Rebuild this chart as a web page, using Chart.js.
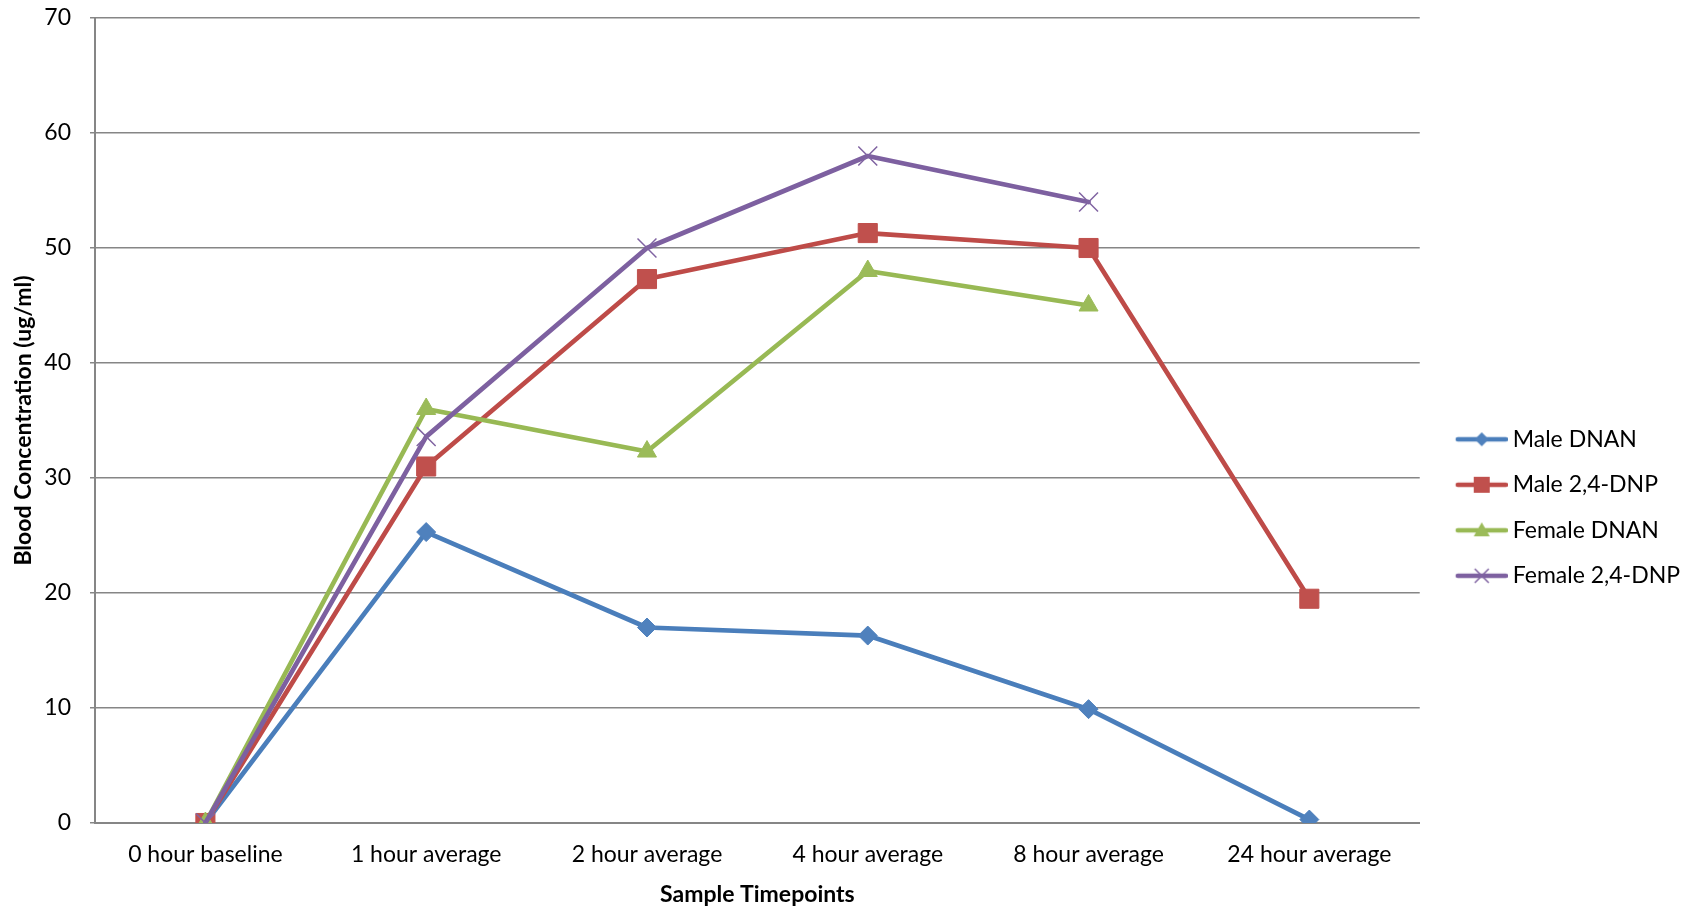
<!DOCTYPE html>
<html>
<head>
<meta charset="utf-8">
<script src="https://cdn.jsdelivr.net/npm/chart.js@4/dist/chart.umd.min.js"></script>
<style>
html, body { margin: 0; padding: 0; background: #fff; }
#wrap { width: 1693px; height: 907px; position: relative; }
</style>
</head>
<body>
<div id="wrap"><canvas id="grafico"></canvas></div>
<script>
const categorias = ['0 hour baseline', '1 hour average', '2 hour average', '4 hour average', '8 hour average', '24 hour average'];
const maleDNAN = [0, 25.3, 17.0, 16.3, 9.9, 0.3];
const maleDNP = [0, 31.0, 47.3, 51.3, 50.0, 19.5];
const femaleDNAN = [0, 36.0, 32.3, 48.0, 45.0, null];
const femaleDNP = [0, 33.6, 50.0, 58.0, 54.0, null];
const nomesSeries = ['Male DNAN', 'Male 2,4-DNP', 'Female DNAN', 'Female 2,4-DNP'];
const yMin = 0, yMax = 70, yPasso = 10;

const cinza = '#868686';
const coresLinha = ['#4A7EBB', '#BE4B48', '#98B954', '#7D60A0'];
const coresMarca = ['#4F81BD', '#C0504D', '#9BBB59', '#8064A2'];
const tipos = ['diamond', 'square', 'triangle', 'x'];

Chart.defaults.font.family = 'Lato';
Chart.defaults.font.size = 23;
Chart.defaults.color = '#000';

// desenha o simbolo da legenda (linha + marcador) num canvas pequeno
function marcaLegenda(i) {
    const c = document.createElement('canvas');
    c.width = 72; c.height = 22;
    const g = c.getContext('2d');
    const x0 = 20, cx = x0 + 26, cy = 11;
    g.strokeStyle = coresLinha[i]; g.lineWidth = 4.5; g.lineCap = 'round';
    g.beginPath(); g.moveTo(x0 + 2, cy); g.lineTo(x0 + 50, cy); g.stroke();
    g.fillStyle = coresMarca[i]; g.strokeStyle = coresMarca[i];
    g.beginPath();
    if (tipos[i] === 'diamond') {
        g.moveTo(cx - 7, cy); g.lineTo(cx, cy - 7); g.lineTo(cx + 7, cy); g.lineTo(cx, cy + 7); g.closePath(); g.fill();
    } else if (tipos[i] === 'square') {
        g.rect(cx - 8, cy - 8, 16, 16); g.fill();
    } else if (tipos[i] === 'triangle') {
        g.moveTo(cx, cy - 8); g.lineTo(cx + 8, cy + 6); g.lineTo(cx - 8, cy + 6); g.closePath(); g.fill();
    } else {
        g.lineWidth = 1.5; g.lineCap = 'butt';
        g.moveTo(cx - 7, cy - 7); g.lineTo(cx + 7, cy + 7);
        g.moveTo(cx + 7, cy - 7); g.lineTo(cx - 7, cy + 7); g.stroke();
    }
    return c;
}

const series = [maleDNAN, maleDNP, femaleDNAN, femaleDNP];
const estilosPonto = ['rectRot', 'rect', 'triangle', 'crossRot'];
const raios = [9.5, 13.5, 11, 13.4];

const ctx = document.getElementById('grafico').getContext('2d');
const grafico = new Chart(ctx, {
    type: 'line',
    data: {
        labels: categorias,
        datasets: series.map((valores, i) => ({
            label: nomesSeries[i],
            data: valores,
            borderColor: coresLinha[i],
            backgroundColor: coresMarca[i],
            borderWidth: 4.7,
            borderJoinStyle: 'round',
            borderCapStyle: 'round',
            tension: 0,
            pointStyle: estilosPonto[i],
            pointRadius: raios[i],
            pointBackgroundColor: coresMarca[i],
            pointBorderColor: coresMarca[i],
            pointBorderWidth: i === 3 ? 1.5 : 1,
            order: 4 - i
        }))
    },
    options: {
        responsive: true,
        maintainAspectRatio: false,
        animation: false,
        layout: { autoPadding: false, padding: { top: 18, right: 3, bottom: 0, left: 0 } },
        plugins: {
            tooltip: { enabled: false },
            legend: {
                position: 'right',
                align: 'center',
                title: { display: true, text: '', font: { size: 12 }, padding: { top: 75.7, bottom: 0 } },
                labels: {
                    usePointStyle: true,
                    pointStyleWidth: 59,
                    padding: 22.5,
                    font: { size: 23 },
                    generateLabels: (chart) => chart.data.datasets.map((ds, i) => ({
                        text: ds.label,
                        fillStyle: coresMarca[i],
                        strokeStyle: coresLinha[i],
                        lineWidth: 0,
                        pointStyle: marcaLegenda(i),
                        hidden: false,
                        datasetIndex: i
                    }))
                }
            }
        },
        scales: {
            x: {
                offset: true,
                grid: { display: false, drawTicks: false },
                border: { display: true, color: cinza, width: 2 },
                ticks: { padding: 20.5, maxRotation: 0, autoSkip: false, font: { lineHeight: 1 } },
                title: { display: true, text: 'Sample Timepoints', font: { size: 23, weight: 'bold', lineHeight: 1 }, padding: { top: 0, bottom: 0.5 } },
                afterFit: (escala) => { escala.height = 84; }
            },
            y: {
                min: yMin,
                max: yMax,
                ticks: { stepSize: yPasso, padding: 19 },
                grid: { color: cinza, lineWidth: 1.5, tickLength: 5, drawTicks: true },
                border: { display: true, color: cinza, width: 2 },
                title: { display: true, text: 'Blood Concentration (ug/ml)', font: { size: 23, weight: 'bold', lineHeight: 1 }, padding: { top: 12.5, bottom: 0 } },
                afterFit: (escala) => { escala.width = 95; escala.paddingTop = 0; escala.paddingBottom = 0; }
            }
        }
    }
});
</script>
</body>
</html>
